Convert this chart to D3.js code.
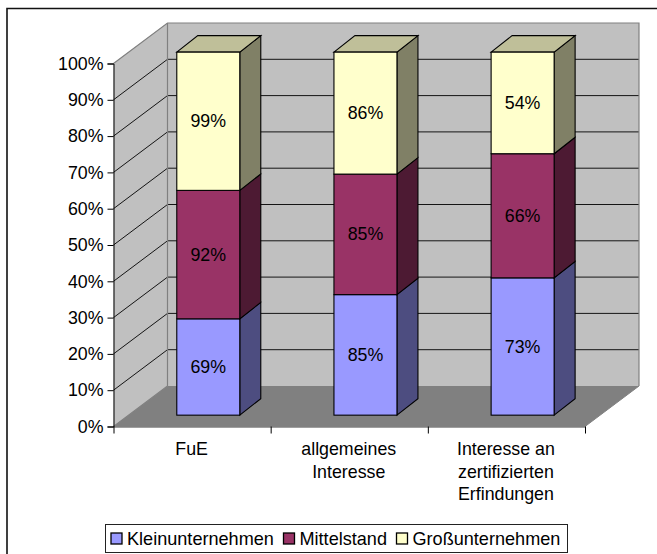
<!DOCTYPE html>
<html><head><meta charset="utf-8">
<script src="https://cdn.jsdelivr.net/npm/d3@7"></script>
<style>html,body{margin:0;padding:0;background:#fff}svg{display:block}text{font-family:"Liberation Sans",Arial,sans-serif;fill:#000}</style>
</head><body><svg id="c" width="657" height="554"></svg>
<script>
const categories = [["FuE"],["allgemeines","Interesse"],["Interesse an","zertifizierten","Erfindungen"]];
const seriesNames = ["Kleinunternehmen","Mittelstand","Großunternehmen"];
const klein = [69,85,73];
const mittel = [92,85,66];
const gross = [99,86,54];
const yTicks = [0,.1,.2,.3,.4,.5,.6,.7,.8,.9,1];
const colors = ["#9999ff","#993366","#ffffcc"];
const sideColors = ["#4d4d80","#4d1a33","#808066"];
const topColors = ["#7373bf","#732649","#bfbf99"];

const svg = d3.select("#c");
const FS = 17.8;
const x = d3.scaleBand().domain([0,1,2]).range([113.5,585]);
const y = d3.scaleLinear().domain([0,1]).range([426.5,63.5]);
const WX = 54, WY = -40.5;                 // wall depth
const BX = 0.30*WX, BY = 0.28*WY;          // front plane of the bars
const DX = 21, DY = -16.5;                 // bar depth
const barW = 63;

const rows = categories.map((c,i)=>({i,a:klein[i],b:mittel[i],c:gross[i]}));
const stacked = d3.stack().keys(["a","b","c"]).offset(d3.stackOffsetExpand)(rows);

// frame
svg.append("path").attr("d","M7,554V8.5H657").attr("fill","none").attr("stroke","#111").attr("stroke-width",1.6);

const [x0,x1] = x.range();
const y0 = y(0), y100 = y(1);
const poly = pts => pts.map(p=>p.join(",")).join(" ");
// walls
svg.append("polygon").attr("points",poly([[x0,y100],[x0+WX,y100+WY],[x1+WX,y100+WY],[x1+WX,y0+WY],[x0+WX,y0+WY]]))
  .attr("fill","#c0c0c0");
svg.append("polygon").attr("points",poly([[x0,y100],[x0+WX,y100+WY],[x0+WX,y0+WY],[x0,y0]]))
  .attr("fill","#c0c0c0");
svg.append("polygon").attr("points",poly([[x0,y0],[x0+WX,y0+WY],[x1+WX,y0+WY],[x1,y0]]))
  .attr("fill","#808080");
// grid
yTicks.slice(1,-1).forEach(t=>{
  svg.append("path").attr("d",`M${x0},${y(t)}L${x0+WX},${y(t)+WY}H${x1+WX}`)
    .attr("fill","none").attr("stroke","#000").attr("stroke-width",0.9);
});
svg.append("path").attr("d",`M${x0},${y100}L${x0+WX},${y100+WY}H${x1+WX}V${y0+WY}`)
  .attr("fill","none").attr("stroke","#808080").attr("stroke-width",1.2);
svg.append("path").attr("d",`M${x0+WX},${y100+WY}V${y0+WY}L${x0},${y0}`)
  .attr("fill","none").attr("stroke","#808080").attr("stroke-width",1.2);
svg.append("path").attr("d",`M${x1+WX},${y0+WY}L${x1},${y0}`)
  .attr("fill","none").attr("stroke","#808080").attr("stroke-width",1);

// bars
const by = v => y(v)+BY;
stacked.forEach((s,si)=>{
  s.forEach((d,i)=>{
    const L = x(i)+x.bandwidth()/2 - barW/2 + BX, R = L+barW;
    const t = by(d[1]), b = by(d[0]);
    const g = svg.append("g").attr("stroke","#000").attr("stroke-width",1.1).attr("stroke-linejoin","miter");
    g.append("polygon").attr("points",poly([[R,b],[R+DX,b+DY],[R+DX,t+DY],[R,t]])).attr("fill",sideColors[si]);
    if(si===2) g.append("polygon").attr("points",poly([[L,t],[L+DX,t+DY],[R+DX,t+DY],[R,t]])).attr("fill",topColors[si]);
    g.append("rect").attr("x",L).attr("y",t).attr("width",barW).attr("height",b-t).attr("fill",colors[si]);
    svg.append("text").attr("x",(L+R)/2).attr("y",(t+b)/2+6).attr("text-anchor","middle").attr("font-size",FS)
      .text([klein,mittel,gross][si][i]+"%");
  });
});

// axes
const yAxis = d3.axisLeft(y).tickValues(yTicks).tickFormat(d3.format(".0%")).tickSize(6).tickPadding(4);
const ga = svg.append("g").attr("transform",`translate(${x0},0)`).call(yAxis);
ga.selectAll("text").attr("font-size",FS).attr("font-family",null).attr("fill","#000");
ga.selectAll("line,path").attr("stroke","#000");
ga.select(".domain").attr("stroke-width",1);

const xEdges = d3.axisBottom(d3.scaleLinear().domain([0,3]).range([x0,x1])).tickValues([0,1,2,3]).tickFormat("").tickSize(7).tickSizeOuter(0);
const gx = svg.append("g").attr("transform",`translate(0,${y0})`).call(xEdges);
gx.selectAll("line,path").attr("stroke","#000");
gx.selectAll(".domain").attr("stroke","#404040");

categories.forEach((lines,i)=>{
  const t = svg.append("text").attr("text-anchor","middle").attr("font-size",FS);
  lines.forEach((l,j)=>t.append("tspan").attr("x",x(i)+x.bandwidth()/2-0.5).attr("y",455+j*22.5).text(l));
});

// legend
svg.append("rect").attr("x",105.5).attr("y",524.5).attr("width",462).attr("height",28)
  .attr("fill","#fff").attr("stroke","#222");
const lx = [110.5,283,396];
seriesNames.forEach((n,i)=>{
  svg.append("rect").attr("x",lx[i]+0.5).attr("y",533).attr("width",11).attr("height",11)
    .attr("fill",colors[i]).attr("stroke","#000").attr("stroke-width",1.3);
  svg.append("text").attr("x",lx[i]+16.5).attr("y",545).attr("font-size",18.1).text(n);
});
</script></body></html>
